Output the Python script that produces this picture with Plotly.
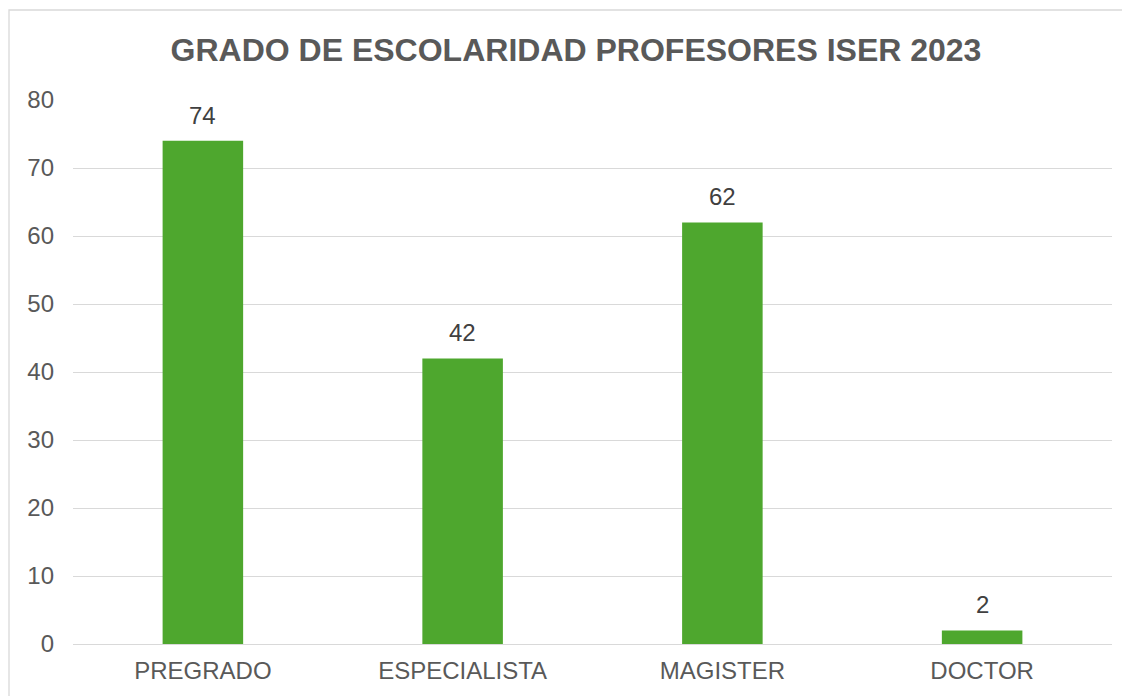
import plotly.graph_objects as go

categories = ["PREGRADO", "ESPECIALISTA", "MAGISTER", "DOCTOR"]
values = [74, 42, 62, 2]
y_ticks = [0, 10, 20, 30, 40, 50, 60, 70, 80]

FONT = "Liberation Sans, Arial, sans-serif"

fig = go.Figure(go.Bar(
    x=categories, y=values,
    marker=dict(color="#4EA72E", line=dict(width=0)),
    hoverinfo="x+y",
))

for c, v in zip(categories, values):
    fig.add_annotation(x=c, y=v, text=str(v), showarrow=False,
                       yanchor="bottom", yshift=10,
                       font=dict(family=FONT, size=24, color="#404040"))

fig.add_shape(type="rect", xref="paper", yref="paper",
              x0=-0.0616, x1=1.03, y0=-0.12, y1=1.1654,
              line=dict(color="#D9D9D9", width=1.3), layer="below")

fig.update_layout(
    width=1122, height=688,
    margin=dict(l=65, r=18, t=92, b=47),
    paper_bgcolor="white", plot_bgcolor="white",
    bargap=0.69,
    showlegend=False,
    font=dict(family=FONT, color="#595959"),
    title=dict(text="<b>GRADO DE ESCOLARIDAD PROFESORES ISER 2023</b>",
               x=568 / 1122, xref="container", xanchor="center",
               y=1 - 42 / 688, yref="container", yanchor="middle",
               font=dict(family=FONT, size=32, color="#595959")),
    xaxis=dict(showgrid=False, showline=True, linecolor="#D9D9D9", linewidth=1.3,
               tickfont=dict(family=FONT, size=24, color="#595959"),
               ticks="", ticklabelstandoff=5, fixedrange=True),
    yaxis=dict(range=[0, 80], tickvals=y_ticks, showgrid=True,
               gridcolor="#D9D9D9", gridwidth=1.3, zeroline=False,
               showline=False,
               tickfont=dict(family=FONT, size=24, color="#595959"),
               ticks="", ticklabelstandoff=18, fixedrange=True),
)

fig.write_html("out.html")
